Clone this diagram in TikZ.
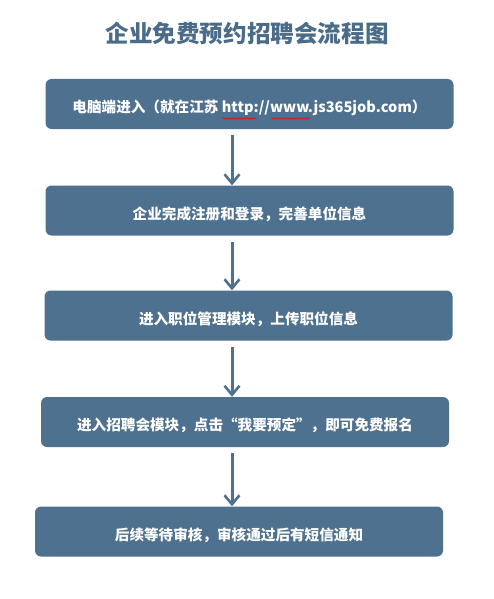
\documentclass[tikz,border=0pt]{standalone}
\usepackage{fontspec}
\usetikzlibrary{arrows.meta,decorations.pathmorphing}
\setmainfont{Noto Sans CJK SC}
\definecolor{flowblue}{HTML}{4E7190}
\definecolor{titleblue}{HTML}{4A6C89}
\tikzset{
  stage/.style={rounded corners=6pt, fill=flowblue, text=white, minimum width=408pt,
    minimum height=50pt, inner sep=0pt, text height=17pt, text depth=0pt,
    font=\fontsize{14.6}{16}\selectfont\bfseries},
  flow/.style={flowblue, line width=3pt, -{Straight Barb[length=9pt,width=15pt,line width=2.6pt]}},
  spellwave/.style={red, line width=0.6pt, decorate, decoration={snake, amplitude=0.8pt, segment length=3pt}}
}

\begin{document}
\begin{tikzpicture}[x=1pt,y=-1pt]
\useasboundingbox (0,0) rectangle (494,599);
\node[titleblue, font=\fontsize{23.6}{26}\selectfont\bfseries] (title) at (247,34) {企业免费预约招聘会流程图};
\node[stage] (b1) at (249.5,104) {电脑端进入（就在江苏 http://www.js365job.com）};
\node[stage] (b2) at (249.5,210.5) {企业完成注册和登录，完善单位信息};
\node[stage] (b3) at (248.5,315.5) {进入职位管理模块，上传职位信息};
\node[stage] (b4) at (245,422) {进入招聘会模块，点击“我要预定”，即可免费报名};
\node[stage] (b5) at (239,531.5) {后续等待审核，审核通过后有短信通知};
\coordinate (axis) at (232,0);
\foreach \a/\b in {b1/b2,b2/b3,b3/b4,b4/b5}
  \draw[flow] ([yshift=-6pt]\a.south -| axis) -- (\b.north -| axis);
\draw[spellwave] ([shift={(-27,14.5)}]b1.center) -- ++(33,0);
\draw[spellwave] ([shift={(22,14.5)}]b1.center) -- ++(38,0);
\end{tikzpicture}
\end{document}
